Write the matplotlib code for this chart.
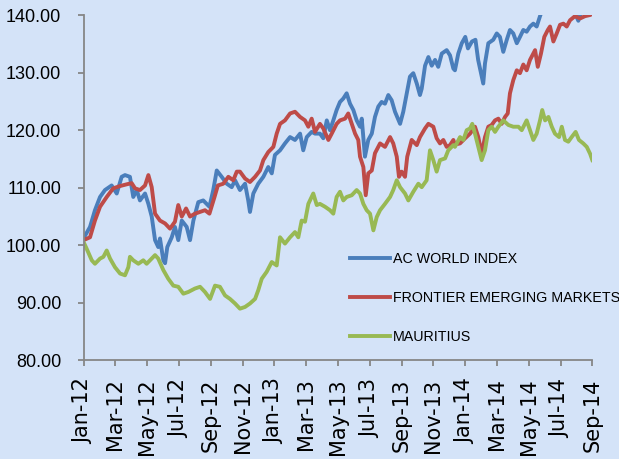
import matplotlib
matplotlib.use("Agg")
import matplotlib.pyplot as plt
from matplotlib.ticker import FormatStrFormatter

# x = months since Jan-12
acwi_x = [0.0, 0.41, 0.72, 1.04, 1.35, 1.77, 2.09, 2.40, 2.61, 2.92, 3.13, 3.35, 3.55, 3.87,
          4.08, 4.29, 4.50, 4.70, 4.81, 5.02, 5.13, 5.27, 5.55, 5.75, 5.96, 6.18, 6.49, 6.70,
          6.91, 7.22, 7.53, 7.92, 8.16, 8.38, 8.69, 9.01, 9.32, 9.53, 9.84, 10.16, 10.36, 10.47,
          10.68, 10.99, 11.31, 11.62, 11.84, 12.04, 12.36, 12.67, 12.99, 13.30, 13.62, 13.82,
          14.04, 14.35, 14.56, 14.87, 15.08, 15.30, 15.50, 15.71, 15.92, 16.13, 16.34, 16.55,
          16.76, 16.97, 17.18, 17.39, 17.50, 17.60, 17.70, 17.91, 18.13, 18.33, 18.54, 18.75,
          18.96, 19.17, 19.38, 19.59, 19.91, 20.11, 20.33, 20.53, 20.74, 20.96, 21.16, 21.27,
          21.48, 21.69, 21.90, 22.11, 22.31, 22.53, 22.84, 23.05, 23.26, 23.36, 23.57, 23.79,
          24.01, 24.18, 24.43, 24.65, 24.82, 25.00, 25.14, 25.25, 25.46, 25.77, 25.99, 26.19,
          26.40, 26.62, 26.82, 27.03, 27.25, 27.45, 27.66, 27.87, 28.08, 28.29, 28.50, 28.71,
          28.87, 29.31, 29.94, 30.57, 30.88, 31.12, 31.35, 31.73, 32.0]
acwi_y = [101.2, 103.2, 106.1, 108.4, 109.6, 110.4, 109.0, 111.9, 112.2, 111.9, 108.4, 109.6,
          107.8, 109.0, 107.2, 105.0, 100.9, 99.7, 101.2, 97.4, 96.9, 99.7, 101.4, 103.2, 100.9,
          104.3, 103.2, 100.9, 104.3, 107.5, 107.8, 106.7, 109.6, 113.0, 111.9, 110.7, 110.1,
          111.3, 109.6, 110.7, 107.8, 105.8, 109.0, 110.7, 111.9, 113.6, 112.5, 115.7, 116.5,
          117.7, 118.8, 118.3, 119.4, 116.5, 118.8, 119.7, 119.4, 119.4, 118.6, 121.7, 120.0,
          121.7, 123.5, 124.9, 125.5, 126.4, 124.6, 123.5, 121.7, 120.6, 122.0, 118.8, 115.4,
          118.3, 119.4, 122.3, 124.1, 124.9, 124.6, 126.1, 125.2, 123.2, 121.1, 123.2, 126.4,
          129.3, 129.9, 128.1, 126.1, 127.2, 131.2, 132.7, 131.2, 132.2, 131.0, 133.3, 133.9,
          133.0, 130.7, 130.4, 133.3, 135.1, 136.2, 134.2, 135.4, 135.7, 132.2, 129.9, 128.1,
          131.6, 135.1, 135.7, 136.8, 136.2, 133.6, 135.7, 137.4, 136.8, 135.1, 136.2, 137.4,
          137.1, 138.0, 138.5, 138.0, 139.8, 141.0, 142.0, 143.0, 141.5, 140.5, 139.0, 141.0,
          142.0, 141.5]

fem_x = [0.0, 0.41, 0.72, 1.04, 1.46, 1.87, 2.30, 2.72, 3.03, 3.24, 3.55, 3.87, 4.08, 4.29,
         4.50, 4.81, 5.13, 5.44, 5.75, 5.96, 6.18, 6.45, 6.70, 7.01, 7.33, 7.64, 7.92, 8.24,
         8.45, 8.79, 9.11, 9.42, 9.64, 9.84, 10.16, 10.47, 10.79, 11.10, 11.31, 11.62, 11.94,
         12.15, 12.36, 12.67, 12.99, 13.30, 13.62, 13.93, 14.14, 14.35, 14.56, 14.87, 15.08,
         15.40, 15.61, 15.92, 16.13, 16.45, 16.65, 16.87, 17.08, 17.28, 17.39, 17.60, 17.75,
         17.91, 18.13, 18.33, 18.65, 18.96, 19.28, 19.48, 19.70, 19.84, 20.01, 20.22, 20.36,
         20.64, 20.96, 21.16, 21.48, 21.69, 22.00, 22.21, 22.42, 22.63, 22.84, 23.05, 23.26,
         23.36, 23.68, 24.00, 24.31, 24.62, 24.83, 25.04, 25.25, 25.46, 25.67, 25.88, 26.09,
         26.30, 26.51, 26.68, 26.82, 27.03, 27.25, 27.45, 27.66, 27.87, 28.08, 28.29, 28.40,
         28.57, 28.77, 28.98, 29.20, 29.34, 29.55, 29.76, 29.97, 30.18, 30.39, 30.60, 30.91,
         31.23, 31.54, 31.86, 32.0]
fem_y = [100.9, 101.4, 104.3, 106.7, 108.4, 109.9, 110.3, 110.6, 110.8, 109.9, 109.6, 110.4,
         112.2, 110.1, 105.5, 104.3, 103.8, 102.9, 104.1, 107.0, 105.0, 106.4, 105.0, 105.5,
         105.8, 106.1, 105.5, 108.4, 110.4, 110.7, 111.9, 111.3, 112.8, 112.8, 111.6, 111.0,
         111.9, 113.0, 114.8, 116.2, 117.1, 119.4, 121.1, 121.7, 122.9, 123.2, 122.3, 121.7,
         120.6, 122.0, 119.7, 121.1, 120.3, 118.3, 119.4, 121.1, 121.7, 122.0, 122.9, 121.1,
         119.4, 118.3, 115.4, 113.6, 108.7, 112.5, 113.0, 116.0, 117.7, 117.1, 118.8, 117.7,
         115.4, 111.9, 112.8, 111.9, 115.4, 118.3, 117.4, 118.8, 120.3, 121.1, 120.6, 118.6,
         117.7, 118.3, 117.1, 117.4, 118.3, 117.5, 117.7, 118.6, 119.4, 120.6, 118.8, 115.9,
         118.8, 120.6, 120.9, 121.7, 122.0, 121.1, 122.3, 122.9, 126.4, 128.7, 130.4, 129.9,
         131.4, 130.4, 132.2, 133.3, 133.9, 131.0, 133.3, 136.2, 137.4, 138.0, 135.4, 136.8,
         138.3, 138.5, 138.0, 139.1, 139.8, 139.4, 139.8, 140.0, 140.2]

mau_x = [0.0, 0.20, 0.52, 0.72, 1.04, 1.25, 1.46, 1.67, 1.98, 2.30, 2.61, 2.82, 2.92, 3.13,
         3.45, 3.76, 3.97, 4.18, 4.50, 4.70, 5.02, 5.33, 5.65, 5.96, 6.28, 6.59, 7.01, 7.33,
         7.64, 7.96, 8.27, 8.58, 8.90, 9.21, 9.53, 9.84, 10.16, 10.47, 10.79, 10.99, 11.21,
         11.52, 11.84, 12.15, 12.36, 12.67, 12.99, 13.30, 13.51, 13.72, 13.93, 14.14, 14.45,
         14.67, 14.87, 15.19, 15.50, 15.71, 15.92, 16.13, 16.34, 16.55, 16.87, 17.18, 17.39,
         17.60, 17.81, 18.02, 18.23, 18.44, 18.65, 18.96, 19.28, 19.48, 19.70, 19.91, 20.22,
         20.43, 20.74, 21.06, 21.27, 21.58, 21.79, 22.00, 22.21, 22.42, 22.74, 22.94, 23.26,
         23.36, 23.68, 23.89, 24.10, 24.31, 24.45, 24.62, 24.83, 25.04, 25.25, 25.46, 25.67,
         25.88, 26.09, 26.40, 26.72, 27.03, 27.35, 27.56, 27.87, 28.08, 28.29, 28.50, 28.71,
         28.85, 29.03, 29.24, 29.45, 29.65, 29.91, 30.08, 30.28, 30.49, 30.70, 30.95, 31.16,
         31.43, 31.65, 31.86, 32.0]
mau_y = [100.6, 99.4, 97.4, 96.8, 97.7, 98.0, 99.1, 97.7, 96.2, 95.1, 94.8, 96.2, 98.0, 97.4,
         96.8, 97.4, 96.8, 97.4, 98.3, 97.7, 95.7, 94.2, 93.0, 92.8, 91.6, 91.9, 92.5, 92.8,
         91.9, 90.7, 93.0, 92.8, 91.3, 90.7, 89.9, 89.0, 89.3, 89.9, 90.7, 92.2, 94.2, 95.4,
         97.1, 96.5, 101.4, 100.3, 101.4, 102.3, 101.4, 104.3, 104.1, 107.2, 109.0, 107.0,
         107.2, 106.7, 106.1, 105.5, 108.4, 109.3, 107.8, 108.4, 108.7, 109.6, 109.0, 107.2,
         106.1, 105.5, 102.6, 104.9, 106.1, 107.2, 108.4, 109.6, 111.3, 110.1, 109.0, 107.8,
         109.3, 110.7, 110.1, 111.3, 116.5, 114.8, 112.8, 114.8, 115.1, 116.5, 117.4, 117.1,
         118.8, 118.3, 120.0, 120.3, 121.1, 119.4, 117.1, 114.8, 116.5, 120.0, 120.6, 119.7,
         120.6, 121.7, 120.9, 120.6, 120.6, 120.0, 121.7, 120.0, 118.3, 119.4, 121.7, 123.5,
         121.7, 122.3, 120.6, 119.4, 118.8, 120.6, 118.3, 118.0, 118.8, 119.7, 118.3, 117.7,
         117.1, 115.9, 114.8]

tick_months = list(range(0, 33, 2))
tick_labels = ["Jan-12", "Mar-12", "May-12", "Jul-12", "Sep-12", "Nov-12",
               "Jan-13", "Mar-13", "May-13", "Jul-13", "Sep-13", "Nov-13",
               "Jan-14", "Mar-14", "May-14", "Jul-14", "Sep-14"]

bg = "#D4E3F8"
grey = "#868686"

fig = plt.figure(figsize=(6.19, 4.59), dpi=100, facecolor=bg)
ax = fig.add_axes([0.1349, 0.2146, 0.822, 0.7527])
ax.set_facecolor(bg)

ax.plot(acwi_x, acwi_y, color="#4A7EBB", lw=2.8, label="AC WORLD INDEX", solid_joinstyle="round")
ax.plot(fem_x, fem_y, color="#BE4B48", lw=2.8, label="FRONTIER EMERGING MARKETS", solid_joinstyle="round")
ax.plot(mau_x, mau_y, color="#98B954", lw=2.8, label="MAURITIUS", solid_joinstyle="round")

ax.set_xlim(0, 32)
ax.set_ylim(80, 140)
ax.set_yticks(range(80, 141, 10))
ax.yaxis.set_major_formatter(FormatStrFormatter("%.2f"))
ax.set_xticks(tick_months)
ax.set_xticklabels(tick_labels)

for s in ["top", "right"]:
    ax.spines[s].set_visible(False)
for s in ["left", "bottom"]:
    ax.spines[s].set_color(grey)
    ax.spines[s].set_linewidth(1.3)
ax.tick_params(axis="y", length=4, width=1.3, color=grey, pad=12)
ax.tick_params(axis="x", length=4, width=1.3, color=grey, pad=9, labelrotation=90)

for lbl in ax.get_yticklabels():
    lbl.set_family("Liberation Sans")
    lbl.set_fontsize(13)
for lbl in ax.get_xticklabels():
    lbl.set_family("DejaVu Sans")
    lbl.set_fontsize(15)

ax.legend(loc="upper left", bbox_to_anchor=(350 / 619, 1 - 252 / 459), bbox_transform=fig.transFigure,
          frameon=False, borderpad=0, borderaxespad=0, handlelength=2.8, handletextpad=0.2,
          labelspacing=1.75, prop={"family": "Liberation Sans", "size": 10.3})

fig.savefig("out.png", dpi=100, facecolor=bg)
